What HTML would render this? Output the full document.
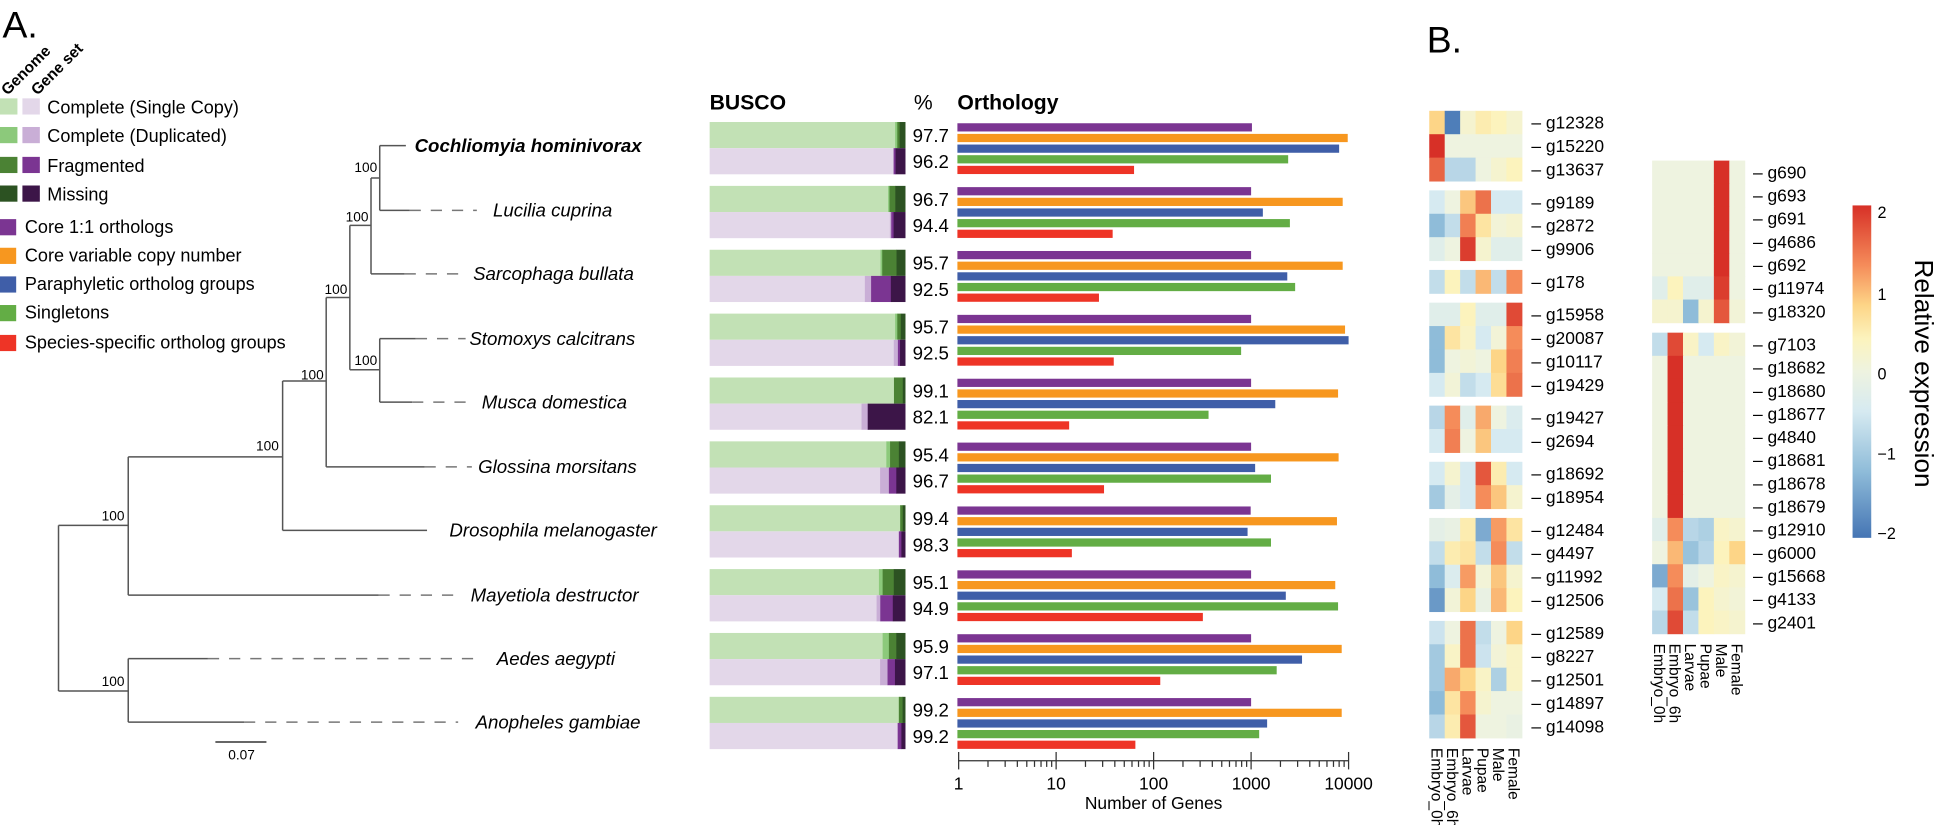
<!DOCTYPE html>
<html><head><meta charset="utf-8"><style>
html,body{margin:0;padding:0;background:#fff;}
svg{display:block;font-family:"Liberation Sans",sans-serif;}
.sp{font-style:italic;font-size:15px;}
.nl{font-size:11px;}
.lg{font-size:14.5px;}
</style></head><body>
<svg id="fig" width="1945" height="825" viewBox="0 0 1945 825" xmlns="http://www.w3.org/2000/svg">
<g transform="scale(1.245)">
<text x="2" y="30" font-size="30">A.</text>
<text x="1146" y="42" font-size="30">B.</text>
<g font-weight="bold" font-size="12.5">
<text transform="translate(6,77) rotate(-45)">Genome</text>
<text transform="translate(30,77) rotate(-45)">Gene set</text>
</g>
<g class="lg">
<rect x="0" y="79" width="14" height="13" fill="#c2e1b5"/><rect x="18" y="79" width="14" height="13" fill="#e3d7e9"/><text x="38" y="91">Complete (Single Copy)</text>
<rect x="0" y="102" width="14" height="13" fill="#8cc97b"/><rect x="18" y="102" width="14" height="13" fill="#c9aed6"/><text x="38" y="114">Complete (Duplicated)</text>
<rect x="0" y="126" width="14" height="13" fill="#4b8234"/><rect x="18" y="126" width="14" height="13" fill="#7b3592"/><text x="38" y="138">Fragmented</text>
<rect x="0" y="149" width="14" height="13" fill="#2c5222"/><rect x="18" y="149" width="14" height="13" fill="#3c1548"/><text x="38" y="161">Missing</text>
</g>
<g class="lg">
<rect x="0" y="176" width="13" height="13" fill="#7b3592"/><text x="20" y="187">Core 1:1 orthologs</text>
<rect x="0" y="199" width="13" height="13" fill="#f7971f"/><text x="20" y="210">Core variable copy number</text>
<rect x="0" y="222" width="13" height="13" fill="#3f5ea8"/><text x="20" y="233">Paraphyletic ortholog groups</text>
<rect x="0" y="245" width="13" height="13" fill="#63ad45"/><text x="20" y="256">Singletons</text>
<rect x="0" y="269" width="13" height="13" fill="#ee3426"/><text x="20" y="280">Species-specific ortholog groups</text>
</g>
<g stroke="#555" stroke-width="1.2" fill="none">
<path d="M47,422V555M47,422H103M47,555H103"/>
<path d="M103,529V580M103,529H167M103,580H196"/>
<path d="M103,367V478M103,367H227M103,478H304"/>
<path d="M227,306V426M227,306H262M227,426H343"/>
<path d="M262,239V375M262,239H281M262,375H341"/>
<path d="M281,181V297M281,181H298M281,297H305"/>
<path d="M305,272V323M305,272H334M305,323H331"/>
<path d="M298,143V220M298,143H305M298,220H325"/>
<path d="M305,117V169M305,117H326M305,169H329"/>
<g stroke-dasharray="9,8" stroke="#777">
<path d="M167,529H388M196,580H368M304,478H367M341,375H379M334,272H374M331,323H379M325,220H374M329,169H383"/>
</g>
<path d="M173,596H214" stroke="#333"/>
</g>
<text x="194" y="610" font-size="11" text-anchor="middle">0.07</text>
<g class="nl" text-anchor="end">
<text x="100" y="551">100</text><text x="100" y="418">100</text><text x="224" y="362">100</text>
<text x="260" y="305">100</text><text x="279" y="236">100</text><text x="303" y="293">100</text>
<text x="296" y="178">100</text><text x="303" y="138">100</text>
</g>
<g class="sp">
<text x="333" y="122" font-weight="bold">Cochliomyia hominivorax</text>
<text x="396" y="174">Lucilia cuprina</text>
<text x="380" y="225">Sarcophaga bullata</text>
<text x="377" y="277">Stomoxys calcitrans</text>
<text x="387" y="328">Musca domestica</text>
<text x="384" y="380">Glossina morsitans</text>
<text x="361" y="431">Drosophila melanogaster</text>
<text x="378" y="483">Mayetiola destructor</text>
<text x="399" y="534">Aedes aegypti</text>
<text x="382" y="585">Anopheles gambiae</text>
</g>
<text x="570" y="88" font-size="17" font-weight="bold">BUSCO</text>
<text x="734" y="88" font-size="17">%</text>
<text x="769" y="88" font-size="17" font-weight="bold">Orthology</text>
<g id="busco"></g>
<g id="ortho"></g>
<g id="heatL"></g>
<g id="heatR"></g>
<defs><linearGradient id="cbg" x1="0" y1="0" x2="0" y2="1">
<stop offset="0" stop-color="#d73027"/><stop offset="0.18" stop-color="#f58c5a"/><stop offset="0.3" stop-color="#fdd587"/><stop offset="0.4" stop-color="#fcf3bd"/><stop offset="0.5" stop-color="#eef3e0"/><stop offset="0.62" stop-color="#d6eaf1"/><stop offset="0.8" stop-color="#8fbcd9"/><stop offset="1" stop-color="#4575b4"/></linearGradient></defs>
<rect x="1488" y="165" width="15" height="267" fill="url(#cbg)"/>
<g font-size="13">
<text x="1508" y="175">2</text><text x="1508" y="241">1</text><text x="1508" y="305">0</text><text x="1508" y="369">−1</text><text x="1508" y="433">−2</text>
</g>
<text transform="translate(1538,300) rotate(90)" text-anchor="middle" font-size="21">Relative expression</text>
</g>
</svg>
<script>
const species=["Cochliomyia hominivorax","Lucilia cuprina","Sarcophaga bullata","Stomoxys calcitrans","Musca domestica","Glossina morsitans","Drosophila melanogaster","Mayetiola destructor","Aedes aegypti","Anopheles gambiae"];
const genomePct=["97.7","96.7","95.7","95.7","99.1","95.4","99.4","95.1","95.9","99.2"];
const genesetPct=["96.2","94.4","92.5","92.5","82.1","96.7","98.3","94.9","97.1","99.2"];
const genomeParts=[[94.9,1.1,1.2,2.8],[91.3,0.7,3.0,5.0],[87.4,0.9,7.3,4.4],[94.9,1.1,1.8,2.2],[94.3,0,4.5,1.2],[90.4,1.9,4.5,3.2],[97.5,0,1.3,1.2],[86.6,1.9,5.7,5.8],[88.5,3.2,3.8,4.5],[96.8,0,1.9,1.3]];
const genesetParts=[[93.8,0.4,0.9,4.9],[92.2,0.7,1.2,5.9],[79.4,3.2,10.1,7.3],[94.2,2.1,1.1,2.6],[77.7,3.2,0,19.1],[87.2,4.5,3.8,4.5],[96.8,0,1.3,1.9],[85.4,1.9,6.4,6.3],[87.2,3.8,3.8,5.2],[96.2,0,1.9,1.9]];
const core11=[1020,1000,1000,1000,1000,1000,990,1000,1000,1000];
const coreVar=[9800,8700,8700,9200,7800,7900,7600,7300,8500,8500];
const paraphyletic=[8000,1320,2350,10000,1770,1100,920,2270,3330,1460];
const singletons=[2400,2500,2830,790,366,1600,1600,7800,1830,1210];
const speciesSpecific=[63,38,27.5,39,13.6,31,14.5,320,117,65];
const axisTicks=[1,10,100,1000,10000];

const NS="http://www.w3.org/2000/svg";
function mk(tag,attrs,parent){const e=document.createElementNS(NS,tag);for(const k in attrs)e.setAttribute(k,attrs[k]);parent.appendChild(e);return e;}
const rowY=i=>98+i*51.3;
const busco=document.getElementById('busco');
const bx0=570,bw=157;
const gCols=["#c2e1b5","#8cc97b","#4b8234","#2c5222"],sCols=["#e3d7e9","#c9aed6","#7b3592","#3c1548"];
const segNames=["single","duplicated","fragmented","missing"];
species.forEach((sp,i)=>{
  [[genomeParts[i],gCols,0,genomePct[i],'genome'],[genesetParts[i],sCols,21,genesetPct[i],'geneset']].forEach(([parts,cols,off,pct,kind])=>{
    let x=bx0;
    parts.forEach((p,k)=>{const w=p/100*bw;
      const r=mk('rect',{x:x,y:rowY(i)+off,width:w+0.3,height:21,fill:cols[k]},busco);
      
      
      x+=w;});
    const t=mk('text',{x:733,y:rowY(i)+off+16,'font-size':15},busco);t.textContent=pct;
    
    
  });
});
const ortho=document.getElementById('ortho');
const ox0=770,dec=78.3;
const xs=v=>ox0+dec*Math.log10(v);
const series=[[core11,"#7b3592","core11"],[coreVar,"#f7971f","core-variable"],[paraphyletic,"#3f5ea8","paraphyletic"],[singletons,"#63ad45","singletons"],[speciesSpecific,"#ee3426","species-specific"]];
species.forEach((sp,i)=>{
  series.forEach(([arr,col,nm],k)=>{
    const r=mk('rect',{x:769,y:rowY(i)+1+k*8.55,width:Math.max(0,xs(arr[i])-769),height:6.6,fill:col},ortho);
    
    
  });
});
const ax=mk('g',{stroke:"#333","stroke-width":1},ortho);


mk('line',{x1:ox0,x2:xs(10000),y1:611,y2:611},ax);
for(let d=0;d<4;d++){for(let m=2;m<10;m++){const x=xs(Math.pow(10,d)*m);mk('line',{x1:x,x2:x,y1:611,y2:616},ax);}}
axisTicks.forEach(v=>{mk('line',{x1:xs(v),x2:xs(v),y1:604,y2:618},ax);
  const t=mk('text',{x:xs(v),y:634,'font-size':14,'text-anchor':'middle',stroke:'none',fill:'#000'},ortho);t.textContent=v;
  
  });
const xt=mk('text',{x:xs(100),y:650,'font-size':14,'text-anchor':'middle'},ortho);xt.textContent="Number of Genes";



const stops=[[-2,[69,117,180]],[-1.2,[143,188,217]],[-0.5,[214,234,241]],[0,[238,243,224]],[0.4,[252,243,189]],[0.8,[253,213,135]],[1.3,[245,140,90]],[2,[215,48,39]]];
function col(v){v=Math.max(-2,Math.min(2,v));for(let i=0;i<stops.length-1;i++){const[a,ca]=stops[i],[b,cb]=stops[i+1];if(v<=b){const t=(v-a)/(b-a);return 'rgb('+ca.map((c,j)=>Math.round(c+(cb[j]-c)*t)).join(',')+')';}}return 'rgb(215,48,39)';}
const conditions=["Embryo_0h","Embryo_6h","Larvae","Pupae","Male","Female"];
const leftGenes=["g12328","g15220","g13637","g9189","g2872","g9906","g178","g15958","g20087","g10117","g19429","g19427","g2694","g18692","g18954","g12484","g4497","g11992","g12506","g12589","g8227","g12501","g14897","g14098"];
const leftGroups=[3,3,1,4,2,2,4,5];
const leftValues=[[0.8,-1.9,0.2,0.5,0.4,0.2],[2,0,0,0,0,0],[1.6,-0.8,-0.8,0,0.2,0.4],
[-0.5,0,0.9,1.5,-0.5,-0.5],[-1.2,-0.7,1.4,0.6,0.1,0.2],[-0.3,0,1.9,0.2,-0.3,-0.3],
[-0.7,0.4,-0.7,1,-0.7,1.3],
[-0.3,-0.3,0.4,-0.3,-0.3,1.8],[-1.2,0.6,0.3,-0.5,0.1,1.3],[-1.2,0,0.1,0,0.8,1.4],[-0.5,0.1,-0.7,-0.5,0.7,1.5],
[-0.8,1.3,-0.3,1.1,0,-0.4],[-0.5,1.4,0,0.9,-0.5,-0.5],
[-0.5,0.2,-0.5,1.7,0.5,-0.5],[-1,-0.2,-0.5,1.3,0.9,0.2],
[-0.2,-0.1,0.5,-1.4,1.2,0.6],[-0.7,0.5,0.6,-0.7,1.3,-0.7],[-1.2,-0.4,1.2,0.1,0.9,0.2],[-1.6,0.1,0.8,-0.1,1,0.4],
[-0.6,0,1.5,-0.7,0,0.8],[-1,0.3,1.5,-0.6,0.1,0.3],[-1,1.1,0.8,0.3,-0.9,0.3],[-1.2,0.6,1.3,0.2,0,0],[-0.8,0.5,1.7,0,0,-0.1]];
const rightGenes=["g690","g693","g691","g4686","g692","g11974","g18320","g7103","g18682","g18680","g18677","g4840","g18681","g18678","g18679","g12910","g6000","g15668","g4133","g2401"];
const rightGroups=[7,13];
const rightValues=[[0,0,0,0,2,0],[0,0,0,0,2,0],[0,0,0,0,2,0],[0,0,0,0,2,0],[0,0,0,0,2,0],[-0.3,0.4,-0.3,-0.3,1.9,0],[0.2,0.2,-1.2,0.2,1.7,0.1],
[-0.7,1.8,0.3,-0.5,0.3,0.1],[0,2,0,0,0,0],[0,2,0,0,0,0],[0,2,0,0,0,0],[0,2,0,0,0,0],[0,2,0,0,0,0],[0,2,0,0,0,0],[0,2,0,0,0,0],
[-0.3,1.3,-0.8,-0.9,0.3,0.2],[0,1.0,-1.1,-0.8,0.4,0.8],[-1.4,1.3,-0.2,0,0.3,0.2],[-0.5,1.5,-1.1,0.4,0.2,0.1],[-0.8,1.8,-0.7,0.4,0.3,0.2]];
function heat(gid,genes,groups,vals,x0,y0,rh,gap,cw,lx,prefix){
  const g=document.getElementById(gid);
  let r=0,y=y0,bottom=0;
  groups.forEach((n,gi)=>{
    for(let j=0;j<n;j++,r++){
      vals[r].forEach((v,c)=>{
        const e=mk('rect',{x:x0+c*cw,y:y,width:cw+0.4,height:rh+0.4,fill:col(v)},g);
        
        
      });
      const t=mk('text',{x:lx,y:y+rh/2+5,'font-size':14},g);t.textContent="– "+genes[r];
      
      
      y+=rh;
    }
    bottom=y;y+=gap;
  });
  conditions.forEach((c,k)=>{
    const t=mk('text',{transform:'translate('+(x0+k*cw+cw/2-4.5)+','+(bottom+8)+') rotate(90)','font-size':12.5,'text-anchor':'start'},g);t.textContent=c;
    
    
  });
}
heat('heatL',leftGenes,leftGroups,leftValues,1148,89,18.8,7.5,12.4,1230,'heatmap-left');
heat('heatR',rightGenes,rightGroups,rightValues,1327,129,18.6,8,12.4,1408,'heatmap-right');
</script>
</body></html>
